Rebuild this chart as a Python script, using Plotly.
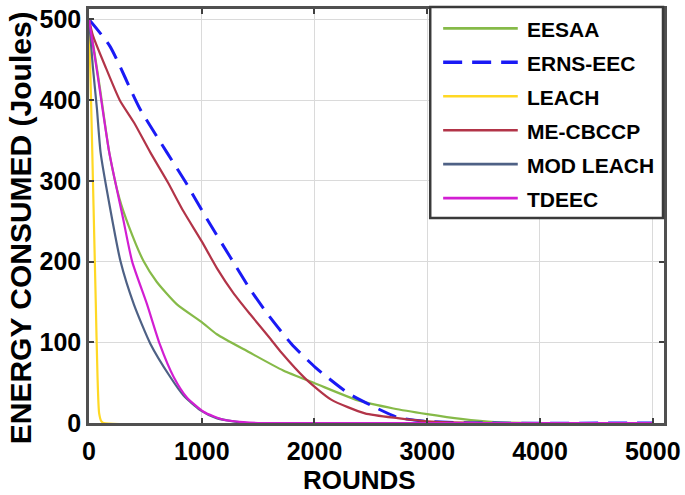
import plotly.graph_objects as go

# ---------------- data ----------------
eesaa_x = [0, 50, 100, 180, 270, 350, 486, 600, 780, 1000, 1134, 1417, 1723, 2007, 2386, 2700, 3000, 3300, 3600, 4000, 5000]
eesaa_y = [500, 458, 412, 335, 278, 245, 200, 175, 147, 125, 110, 88, 65, 49, 28, 18, 11, 5, 1, 0, 0]

erns_x = [0, 185, 449, 692, 863, 1045, 1251, 1428, 1600, 1796, 2007, 2298, 2500, 2738, 3000, 3500, 5000]
erns_y = [500, 467, 390, 335, 297, 253, 206, 166, 132, 98, 69, 37, 22, 7, 2, 0, 0]

leach_x = [0, 20, 40, 60, 75, 90, 110, 130, 5000]
leach_y = [500, 390, 270, 150, 60, 12, 2, 0, 0]

mecb_x = [0, 35, 150, 273, 400, 545, 700, 839, 1000, 1134, 1281, 1428, 1605, 1708, 1919, 2148, 2447, 2738, 3000, 3500, 5000]
mecb_y = [500, 480, 440, 400, 372, 335, 298, 262, 225, 192, 161, 135, 105, 87, 55, 29, 12, 6, 2, 0, 0]

mod_x = [0, 35, 70, 103, 177, 280, 398, 545, 721, 839, 986, 1131, 1280, 1400, 5000]
mod_y = [500, 440, 390, 335, 274, 200, 147, 98, 57, 34, 16, 6, 2, 0, 0]

tdeec_x = [0, 70, 180, 300, 383, 515, 627, 751, 866, 1016, 1193, 1370, 1500, 5000]
tdeec_y = [500, 437, 335, 255, 200, 147, 98, 57, 32, 14, 4, 1, 0, 0]

names = ["EESAA", "ERNS-EEC", "LEACH", "ME-CBCCP", "MOD LEACH", "TDEEC"]
colors = ["#86BA48", "#1A1AF5", "#FFD824", "#B23448", "#4E6185", "#D21ED2"]
dashes = ["solid", "19px,10px", "solid", "solid", "solid", "solid"]
widths = [2.2, 3, 2.2, 2.2, 2.2, 2.2]

x_ticks = [0, 1000, 2000, 3000, 4000, 5000]
y_ticks = [0, 100, 200, 300, 400, 500]

series = [(eesaa_x, eesaa_y), (erns_x, erns_y), (leach_x, leach_y),
          (mecb_x, mecb_y), (mod_x, mod_y), (tdeec_x, tdeec_y)]

fig = go.Figure()
for (xs, ys), n, c, d, w in zip(series, names, colors, dashes, widths):
    fig.add_trace(go.Scatter(x=xs, y=ys, mode="lines", name=n,
                             line=dict(color=c, width=w, dash=d, shape="spline", smoothing=0.6),
                             showlegend=False))

W, H = 685, 495
L, R, T, B = 89, 667, 5, 423


def px(xp):
    return (xp - L) / (R - L)


def py(yp):
    return (B - yp) / (B - T)


FONT = "Liberation Sans, Arial, sans-serif"

# manual legend (box, line samples, labels)
shapes = [dict(type="rect", xref="paper", yref="paper", x0=px(432), x1=px(666), y0=py(216), y1=py(3),
               line=dict(color="#3a3a3a", width=2.5), fillcolor="white", layer="above")]
annotations = []
row0, step = 24.5, 34.3
for i, (n, c, d, w) in enumerate(zip(names, colors, dashes, widths)):
    yy = row0 + i * step
    shapes.append(dict(type="line", xref="paper", yref="paper", x0=px(445), x1=px(520), y0=py(yy), y1=py(yy),
                       line=dict(color=c, width=w + 0.5, dash=d), layer="above"))
    annotations.append(dict(text=n, xref="paper", yref="paper", x=px(527), y=py(yy + 1), xanchor="left",
                            yanchor="middle", showarrow=False,
                            font=dict(family=FONT, size=21, color="black", weight="bold")))

annotations.append(dict(text="ROUNDS", xref="paper", yref="paper", x=px(361), y=py(481), xanchor="center",
                        yanchor="middle", showarrow=False,
                        font=dict(family=FONT, size=26, color="black", weight="bold")))
annotations.append(dict(text="ENERGY CONSUMED (Joules)", xref="paper", yref="paper", x=px(21), y=py(226),
                        xanchor="center", yanchor="middle", textangle=-90, showarrow=False,
                        font=dict(family=FONT, size=30, color="black", weight="bold")))

axis_common = dict(showgrid=True, gridcolor="#dadada", gridwidth=1, zeroline=False,
                   showline=True, linecolor="#505050", linewidth=2.5, mirror="ticks",
                   ticks="inside", ticklen=5, tickcolor="#404040", tickwidth=1.5,
                   tickfont=dict(family=FONT, size=25, color="black", weight="bold"))

fig.update_layout(
    width=W, height=H,
    margin=dict(l=L, r=W - R, t=T, b=H - B),
    paper_bgcolor="white", plot_bgcolor="white",
    xaxis=dict(range=[0, 5100], tickvals=x_ticks, ticktext=[str(v) for v in x_ticks],
               ticklabelstandoff=4, **axis_common),
    yaxis=dict(range=[0, 513], tickvals=y_ticks, ticktext=[str(v) for v in y_ticks], **axis_common),
    shapes=shapes, annotations=annotations,
)

fig.write_html("out.html", config={"displayModeBar": False},
               post_script="document.body.style.margin='0';document.body.style.padding='0';")
